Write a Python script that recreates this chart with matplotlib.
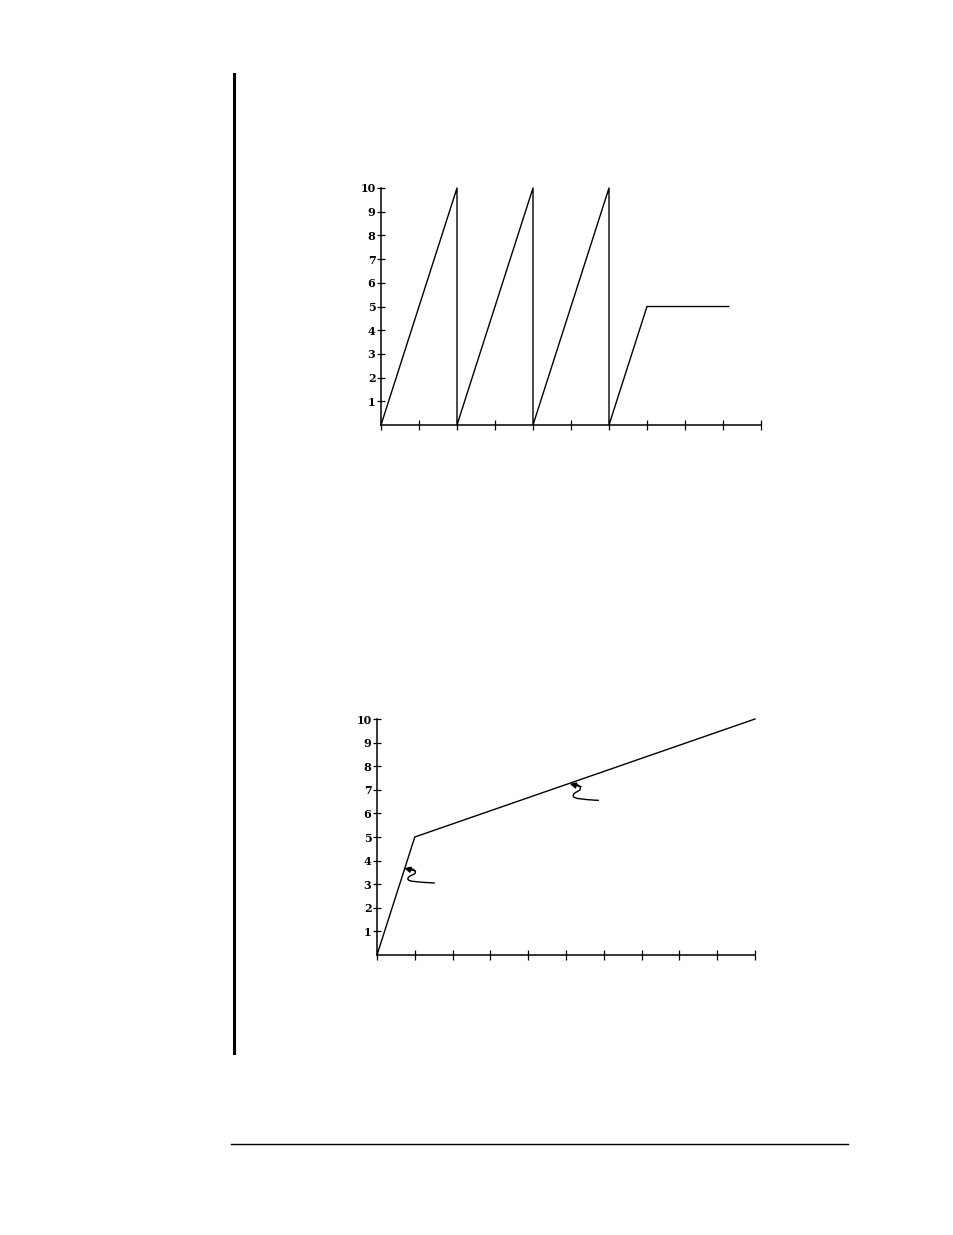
import matplotlib
matplotlib.use("Agg")
import matplotlib.pyplot as plt
from matplotlib.path import Path
from matplotlib.patches import PathPatch

# ---- data ----
# top chart: sawtooth then ramp to a plateau
top_x = [0, 2, 2, 4, 4, 6, 6, 7, 9.15]
top_y = [0, 10, 0, 10, 0, 10, 0, 5, 5]
# bottom chart: two-segment line
bot_x = [0, 1, 10]
bot_y = [0, 5, 10]
# squiggle arrows on bottom chart (head point, tail point) in data coords
arrow_heads = [(0.72, 3.68), (5.1, 7.25)]
arrow_tails = [(1.53, 3.05), (5.87, 6.55)]

y_ticks = [1, 2, 3, 4, 5, 6, 7, 8, 9, 10]
y_ticklabels = ["1", "2", "3", "4", "5", "6", "7", "8", "9", "10"]
x_ticks = [0, 1, 2, 3, 4, 5, 6, 7, 8, 9, 10]

W, H = 954, 1235
fig = plt.figure(figsize=(W / 100, H / 100), dpi=100)
fig.patch.set_facecolor("white")

font = dict(family="DejaVu Serif", fontsize=8, fontweight="bold")


def setup(ax):
    ax.set_xlim(0, 10)
    ax.set_ylim(0, 10)
    for s in ["top", "right"]:
        ax.spines[s].set_visible(False)
    for s in ["left", "bottom"]:
        ax.spines[s].set_linewidth(1.1)
    ax.set_yticks(y_ticks)
    ax.set_yticklabels(y_ticklabels, **font)
    ax.set_xticks(x_ticks)
    ax.set_xticklabels([])
    ax.tick_params(axis="y", direction="inout", length=6, width=0.9, pad=1)
    ax.tick_params(axis="x", direction="inout", length=7, width=0.9)
    ax.patch.set_alpha(0)


def ax_rect(left, right, top, bottom):
    return [left / W, 1 - bottom / H, (right - left) / W, (bottom - top) / H]


ax1 = fig.add_axes(ax_rect(381, 761, 188, 425))
setup(ax1)
ax1.plot(top_x, top_y, color="black", lw=1.0, clip_on=False)

ax2 = fig.add_axes(ax_rect(377, 755, 719, 955))
setup(ax2)
ax2.plot(bot_x, bot_y, color="black", lw=1.0, clip_on=False)

# squiggly arrows (shape in pixel offsets from head)
for (hx, hy), (tx, ty) in zip(arrow_heads, arrow_tails):
    hpx = ax2.transData.transform((hx, hy))
    tpx = ax2.transData.transform((tx, ty))
    dx = tpx[0] - hpx[0]
    dy = tpx[1] - hpx[1]
    pts = [
        (0.12 * dx, -0.02 * dy),
        (0.28 * dx, 0.05 * dy),
        (0.38 * dx, 0.12 * dy),
        (0.36 * dx, 0.32 * dy),
        (0.34 * dx, 0.45 * dy),
        (0.12 * dx, 0.5 * dy),
        (0.12 * dx, 0.72 * dy),
        (0.12 * dx, 0.92 * dy),
        (0.45 * dx, 0.93 * dy),
        (dx, dy),
    ]
    codes = [Path.MOVETO] + [Path.CURVE4] * 9
    verts = [(hpx[0] + p[0], hpx[1] + p[1]) for p in pts]
    fig.add_artist(PathPatch(Path(verts, codes), transform=None, fill=False,
                             lw=1.0, ec="black"))
    # arrow head pointing left toward the line
    ax2.annotate("", xy=(hx, hy), xytext=(hx + 0.3, hy - 0.12),
                 arrowprops=dict(arrowstyle="-|>", color="black", lw=1.0,
                                 mutation_scale=9, shrinkA=0, shrinkB=0))

# page decorations
fig.add_artist(plt.Line2D([234 / W, 234 / W], [1 - 74 / H, 1 - 1053 / H],
                          color="black", lw=2.2, transform=fig.transFigure))
fig.add_artist(plt.Line2D([231 / W, 848 / W], [1 - 1144 / H, 1 - 1144 / H],
                          color="black", lw=1.0, transform=fig.transFigure))

fig.savefig("out.png", dpi=100, facecolor="white")
